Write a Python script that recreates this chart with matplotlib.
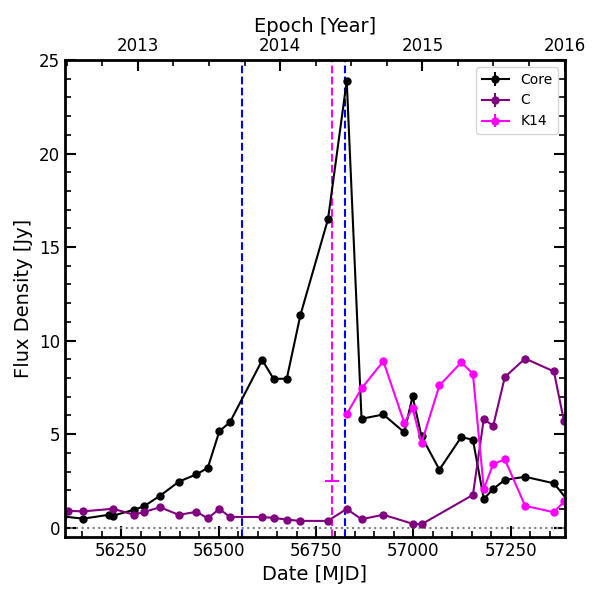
import numpy as np
import matplotlib
matplotlib.use("Agg")
import matplotlib.pyplot as plt
from matplotlib.ticker import MultipleLocator, FixedLocator

# Light curves (MJD, Jy)
core_mjd = [56100, 56152, 56219, 56229, 56283, 56308, 56350, 56398, 56443, 56472,
            56502, 56529, 56612, 56641, 56675, 56710, 56781, 56829, 56867, 56923,
            56977, 56998, 57021, 57067, 57123, 57153, 57181, 57205, 57235, 57287,
            57361, 57395]
core_flux = [0.6, 0.48, 0.69, 0.64, 0.96, 1.14, 1.71, 2.46, 2.85, 3.19,
             5.16, 5.63, 8.96, 7.96, 7.96, 11.36, 16.5, 23.88, 5.82, 6.05,
             5.09, 7.02, 4.88, 3.10, 4.84, 4.70, 1.53, 2.07, 2.55, 2.72,
             2.37, 1.5]

c_mjd = [56112, 56152, 56229, 56283, 56308, 56350, 56398, 56443, 56472, 56502,
         56529, 56612, 56641, 56675, 56710, 56780, 56829, 56867, 56923, 56998,
         57021, 57153, 57181, 57205, 57235, 57287, 57361, 57387]
c_flux = [0.9, 0.87, 1.01, 0.69, 0.84, 1.09, 0.68, 0.85, 0.50, 1.00,
          0.57, 0.57, 0.52, 0.43, 0.36, 0.36, 1.00, 0.45, 0.69, 0.21,
          0.18, 1.75, 5.82, 5.43, 8.05, 9.04, 8.35, 5.68]

k14_mjd = [56829, 56867, 56923, 56977, 56998, 57021, 57067, 57123, 57153, 57181,
           57205, 57235, 57287, 57361, 57387]
k14_flux = [6.07, 7.44, 8.90, 5.59, 6.39, 4.52, 7.60, 8.83, 8.23, 2.07,
            3.40, 3.65, 1.17, 0.82, 1.4]

# marked epochs
blue_epochs = [56560, 56824]
k14_epoch = 56791
k14_epoch_err = 18
k14_epoch_flux = 2.5

year_ticks = [2013, 2014, 2015, 2016]


def mjd_to_year(m):
    return 2000.0 + (np.asarray(m) - 51544.5) / 365.25


def year_to_mjd(y):
    return (np.asarray(y) - 2000.0) * 365.25 + 51544.5


def style_ticks(axis_obj):
    axis_obj.tick_params(which='major', direction='in', length=8, width=1.5, labelsize=12)
    axis_obj.tick_params(which='minor', direction='in', length=4, width=1.2)


fig = plt.figure(figsize=(6, 6), dpi=100)
ax = fig.add_axes([0.108, 0.105, 0.834, 0.795])

ax.errorbar(core_mjd, core_flux, yerr=0.1, color='black', marker='o', ms=5,
            lw=1.5, label='Core')
ax.errorbar(c_mjd, c_flux, yerr=0.1, color='purple', marker='o', ms=5,
            lw=1.5, label='C')
ax.errorbar(k14_mjd, k14_flux, yerr=0.1, color='magenta', marker='o', ms=5,
            lw=1.5, label='K14')

for e in blue_epochs:
    ax.axvline(e, color='blue', ls='--', lw=1.5)
ax.axvline(k14_epoch, color='magenta', ls='--', lw=1.5)
ax.errorbar([k14_epoch], [k14_epoch_flux], xerr=k14_epoch_err, color='magenta',
            lw=1.5, fmt='none')
ax.axhline(0, color='gray', ls=':', lw=1.5)

ax.set_xlim(56105, 57390)
ax.set_ylim(-0.5, 25)
ax.xaxis.set_major_locator(MultipleLocator(250))
ax.xaxis.set_minor_locator(MultipleLocator(50))
ax.yaxis.set_major_locator(MultipleLocator(5))
ax.yaxis.set_minor_locator(MultipleLocator(1))
ax.tick_params(which='both', right=True)
style_ticks(ax)
for s in ax.spines.values():
    s.set_linewidth(2)

ax.set_xlabel('Date [MJD]', fontsize=14)
ax.set_ylabel('Flux Density [Jy]', fontsize=14)

top = ax.secondary_xaxis('top', functions=(mjd_to_year, year_to_mjd))
top.xaxis.set_major_locator(FixedLocator(year_ticks))
top.xaxis.set_minor_locator(MultipleLocator(0.25))
style_ticks(top)
top.set_xlabel('Epoch [Year]', fontsize=14)

ax.legend(loc='upper right', fontsize=10)

fig.savefig('out.png', dpi=100)
